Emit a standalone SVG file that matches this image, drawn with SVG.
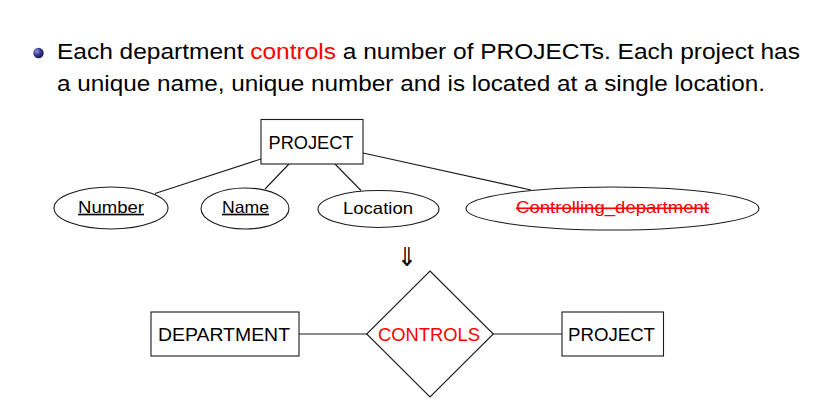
<svg xmlns="http://www.w3.org/2000/svg" width="828" height="407" viewBox="0 0 828 407">
<defs>
<radialGradient id="ball" cx="0.35" cy="0.35" r="0.7">
<stop offset="0" stop-color="#9a9ae0"/>
<stop offset="0.5" stop-color="#3a3a98"/>
<stop offset="1" stop-color="#15154a"/>
</radialGradient>
<style>
.t{font-family:"Liberation Sans",Arial,sans-serif;fill:#000}
.shape{fill:#fff;stroke:#1a1a1a;stroke-width:1.1}
.conn line{stroke:#1a1a1a;stroke-width:1.1}
.lbl{font-family:"Liberation Sans",Arial,sans-serif;font-size:17.5px;fill:#000;text-anchor:middle}
.attr{font-family:"Liberation Sans",Arial,sans-serif;font-size:16.5px;fill:#000;text-anchor:middle}
.red{fill:#ff0000}
</style>
</defs>
<rect width="828" height="407" fill="#fff"/>
<g id="bullet-text">
<circle cx="38.5" cy="53" r="5.2" fill="url(#ball)"/>
<text class="t" x="57" y="58.5" font-size="22" textLength="743" lengthAdjust="spacingAndGlyphs">Each department <tspan class="red">controls</tspan> a number of PROJECTs. Each project has</text>
<text class="t" x="57" y="90.5" font-size="22" textLength="708" lengthAdjust="spacingAndGlyphs">a unique name, unique number and is located at a single location.</text>
</g>
<g class="conn" id="connectors">
<line x1="155" y1="193.5" x2="261" y2="159"/>
<line x1="265" y1="189" x2="289" y2="164"/>
<line x1="335" y1="164" x2="361" y2="190.5"/>
<line x1="363" y1="153" x2="531" y2="190"/>
<line x1="299" y1="334" x2="367" y2="334"/>
<line x1="493" y1="334" x2="562" y2="334"/>
</g>
<g id="project-top">
<rect class="shape" x="261" y="119.5" width="102" height="44.5"/>
<text class="lbl" x="311" y="149.3" textLength="85" lengthAdjust="spacingAndGlyphs">PROJECT</text>
</g>
<g id="attr-number">
<ellipse class="shape" cx="111" cy="208" rx="57" ry="21"/>
<text class="attr" x="111" y="212.7" textLength="66" lengthAdjust="spacingAndGlyphs" text-decoration="underline">Number</text>
</g>
<g id="attr-name">
<ellipse class="shape" cx="245" cy="208.5" rx="44" ry="20.5"/>
<text class="attr" x="245.5" y="212.7" textLength="47" lengthAdjust="spacingAndGlyphs" text-decoration="underline">Name</text>
</g>
<g id="attr-location">
<ellipse class="shape" cx="378.5" cy="209" rx="60.5" ry="18.5"/>
<text class="attr" x="378" y="213.7" textLength="70" lengthAdjust="spacingAndGlyphs">Location</text>
</g>
<g id="attr-controlling">
<ellipse class="shape" cx="612.5" cy="208.5" rx="146.5" ry="21.5"/>
<text class="attr red" x="612.5" y="213.3" textLength="193" lengthAdjust="spacingAndGlyphs" text-decoration="line-through">Controlling_department</text>
</g>
<g id="arrow">
<text transform="translate(406.5,266) scale(1,1.1)" x="0" y="0" font-family="DejaVu Sans,sans-serif" font-size="24" font-weight="200" text-anchor="middle" fill="#000">⇓</text>
</g>
<g id="department">
<rect class="shape" x="151" y="312" width="148" height="44"/>
<text class="lbl" x="224" y="340.7" textLength="132" lengthAdjust="spacingAndGlyphs">DEPARTMENT</text>
</g>
<g id="controls">
<polygon class="shape" points="430,271 493.3,334 430,397 366.7,334"/>
<text class="lbl red" x="429" y="340.7" textLength="102" lengthAdjust="spacingAndGlyphs">CONTROLS</text>
</g>
<g id="project-bottom">
<rect class="shape" x="562" y="312" width="101.5" height="44"/>
<text class="lbl" x="611.5" y="340.7" textLength="87" lengthAdjust="spacingAndGlyphs">PROJECT</text>
</g>
</svg>
